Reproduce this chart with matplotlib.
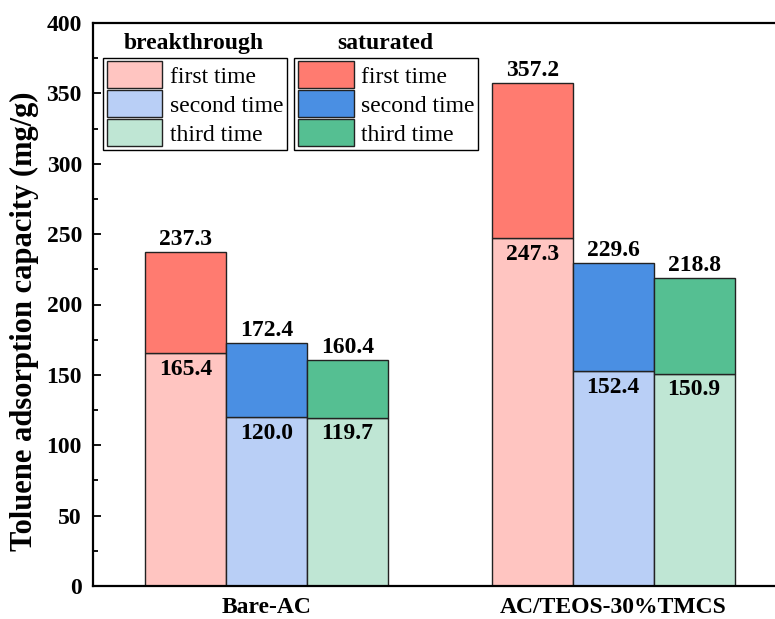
import numpy as np
import matplotlib.pyplot as plt
from matplotlib.ticker import MultipleLocator

plt.rcParams['font.family'] = ['Liberation Serif', 'DejaVu Serif']

# --- datos ---
muestras = ['Bare-AC', 'AC/TEOS-30%TMCS']
veces = ['first time', 'second time', 'third time']
# capacidad a la ruptura (breakthrough) y a la saturación, por vez de uso
ruptura = [[165.4, 120.0, 119.7],
           [247.3, 152.4, 150.9]]
saturacion = [[237.3, 172.4, 160.4],
              [357.2, 229.6, 218.8]]

col_ruptura = ['#FFC5C1', '#B9CFF6', '#BFE6D4']
col_saturacion = ['#FF7B70', '#4A8FE3', '#55BF92']

fig = plt.figure(figsize=(7.75, 6.19), dpi=100)
ax = fig.add_axes([93 / 775, 1 - 586 / 619, 693.5 / 775, 563 / 619])

ancho = 0.2334
x = np.arange(len(muestras))
h_rup, h_sat = [], []
for j in range(3):
    pos = x + (j - 1) * ancho
    rup = np.array([r[j] for r in ruptura])
    sat = np.array([s[j] for s in saturacion])
    b1 = ax.bar(pos, rup, ancho, color=col_ruptura[j], edgecolor='#222222', linewidth=1)
    b2 = ax.bar(pos, sat - rup, ancho, bottom=rup, color=col_saturacion[j],
                edgecolor='#222222', linewidth=1)
    h_rup.append(b1)
    h_sat.append(b2)
    for p, r, s in zip(pos, rup, sat):
        ax.text(p, s + 1.5, f'{s:.1f}', ha='center', va='bottom',
                fontsize=17, fontweight='bold')
        ax.text(p, r - 4, f'{r:.1f}', ha='center', va='top',
                fontsize=17, fontweight='bold')

ax.set_xlim(-0.5, 1.5)
ax.set_ylim(0, 400)
ax.set_xticks(x)
ax.set_xticklabels(muestras, fontsize=17, fontweight='bold')
ax.tick_params(axis='x', length=0, pad=8)
ax.yaxis.set_major_locator(MultipleLocator(50))
ax.yaxis.set_minor_locator(MultipleLocator(25))
ax.tick_params(axis='y', which='major', direction='in', length=6, width=1.3, labelsize=17, pad=8)
ax.tick_params(axis='y', which='minor', direction='in', length=3.5, width=1.3)
for t in ax.get_yticklabels():
    t.set_fontweight('bold')
for s in ax.spines.values():
    s.set_linewidth(1.6)
ax.set_ylabel('Toluene adsorption capacity (mg/g)', fontsize=22, fontweight='bold')
ax.yaxis.set_label_coords(-0.078, 0.471)

opts = dict(loc='upper left', fontsize=17, handlelength=2.37, handleheight=1.38,
            labelspacing=0.085, handletextpad=0.3, borderpad=0.15, borderaxespad=0,
            fancybox=False, edgecolor='black', framealpha=1)
leg1 = ax.legend(h_rup, veces, bbox_to_anchor=(0.0144, 0.938), **opts)
leg1.get_frame().set_linewidth(1)
ax.add_artist(leg1)
leg2 = ax.legend(h_sat, veces, bbox_to_anchor=(0.29, 0.938), **opts)
leg2.get_frame().set_linewidth(1)
ax.text(0.146, 0.964, 'breakthrough', transform=ax.transAxes, ha='center', va='center',
        fontsize=17, fontweight='bold')
ax.text(0.421, 0.964, 'saturated', transform=ax.transAxes, ha='center', va='center',
        fontsize=17, fontweight='bold')

fig.savefig('out.png', dpi=100)
